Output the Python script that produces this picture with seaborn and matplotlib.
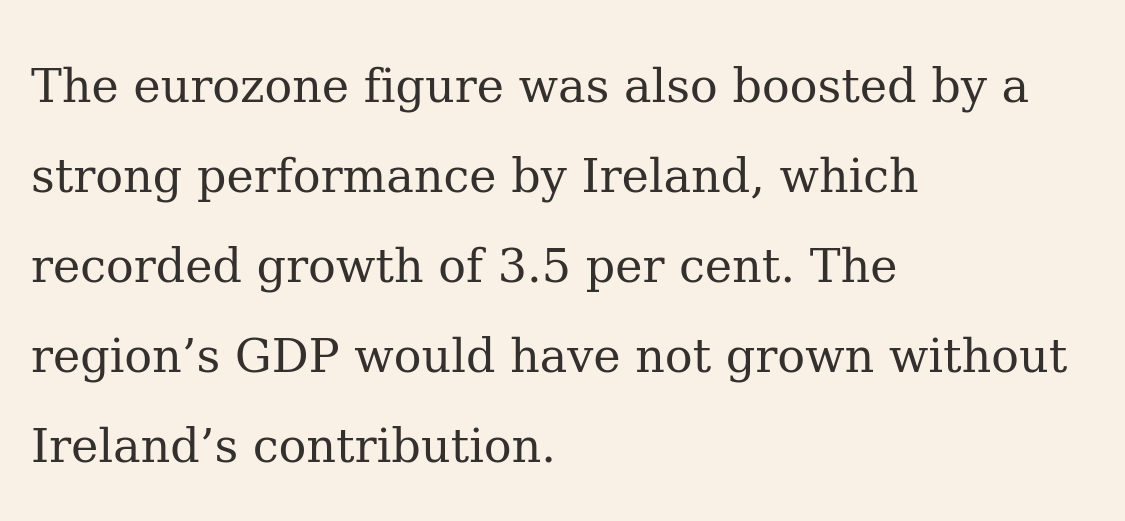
import matplotlib
matplotlib.use('Agg')
import matplotlib.pyplot as plt
import seaborn as sns

# 段落文字（每行一条）
lines = [
    'The eurozone figure was also boosted by a',
    'strong performance by Ireland, which',
    'recorded growth of 3.5 per cent. The',
    'region\u2019s GDP would have not grown without',
    'Ireland\u2019s contribution.',
]
baselines_px = [102, 192, 282, 372, 462]

bg = '#F9F0E6'
ink = '#33302E'

sns.set_theme(style='white')
plt.rcParams['font.family'] = ['DejaVu Serif']

W, H = 1125, 521
fig = plt.figure(figsize=(W / 100, H / 100), dpi=100, facecolor=bg)
ax = fig.add_axes([0, 0, 1, 1])
ax.set_facecolor(bg)
ax.set_xlim(0, W)
ax.set_ylim(H, 0)
ax.axis('off')

texts = []
for line, y in zip(lines, baselines_px):
    t = ax.text(31, y, line, fontsize=40, color=ink, va='baseline', ha='left')
    texts.append(t)

# 按第一行宽度（约 997px）缩放字号
fig.canvas.draw()
r = fig.canvas.get_renderer()
w0 = texts[0].get_window_extent(r).width
size = 40 * 997 / w0
for t in texts:
    t.set_fontsize(size)

fig.savefig('out.png', dpi=100, facecolor=bg)
